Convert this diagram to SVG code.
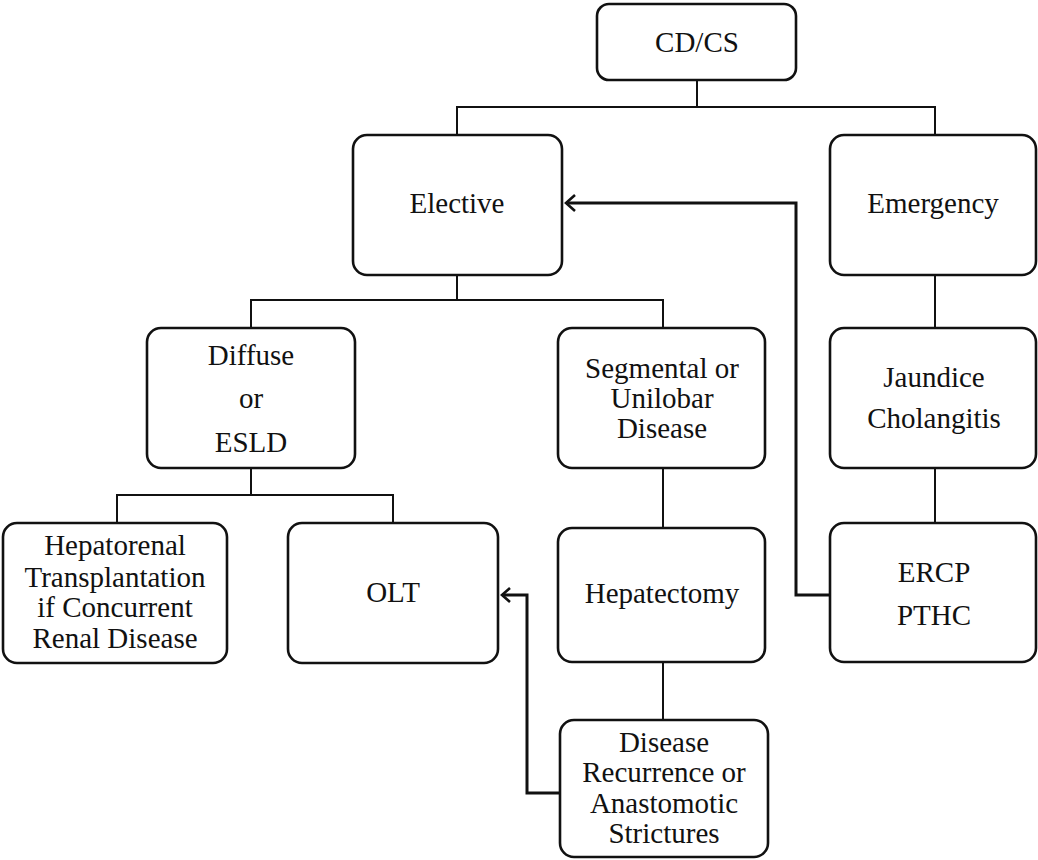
<svg xmlns="http://www.w3.org/2000/svg" width="1038" height="860" viewBox="0 0 1038 860">
<defs>
<style>
.box{fill:#fff;stroke:#111;stroke-width:2.6}
.ln{fill:none;stroke:#111;stroke-width:2}
.ar{fill:none;stroke:#111;stroke-width:3}
.hd{fill:none;stroke:#111;stroke-width:2.6;stroke-linejoin:miter}
</style>
</defs>
<rect width="1038" height="860" fill="#fff"/>
<g id="connectors">
<polyline class="ln" points="697,80 697,107"/>
<polyline class="ln" points="457,135 457,107 935,107 935,135"/>
<polyline class="ln" points="457,275 457,300"/>
<polyline class="ln" points="251,328 251,300 663,300 663,328"/>
<polyline class="ln" points="935,275 935,328"/>
<polyline class="ln" points="251,468 251,495"/>
<polyline class="ln" points="117,523 117,495 393,495 393,523"/>
<polyline class="ln" points="663,468 663,528"/>
<polyline class="ln" points="935,468 935,523"/>
<polyline class="ln" points="663,662 663,720"/>
<polyline class="ar" points="830,595 796,595 796,203 566,203"/>
<polyline class="hd" points="575,195 566,203 575,211"/>
<polyline class="ar" points="560,793 527,793 527,595 502,595"/>
<polyline class="hd" points="510,588 502,595 510,602"/>
</g>
<g font-family="'Liberation Serif', 'DejaVu Serif', 'Times New Roman', serif" font-size="29" fill="#111" text-anchor="middle">
<g id="n-cdcs"><rect class="box" x="597" y="4" width="199" height="76" rx="12"/><text x="697" y="52">CD/CS</text></g>
<g id="n-elective"><rect class="box" x="353" y="135" width="209" height="140" rx="14"/><text x="457" y="213">Elective</text></g>
<g id="n-emergency"><rect class="box" x="830" y="135" width="206" height="140" rx="14"/><text x="933" y="213">Emergency</text></g>
<g id="n-diffuse"><rect class="box" x="147" y="328" width="208" height="140" rx="14"/><text x="251" y="365">Diffuse</text><text x="251" y="408">or</text><text x="251" y="452">ESLD</text></g>
<g id="n-segmental"><rect class="box" x="558" y="328" width="207" height="140" rx="14"/><text x="662" y="378">Segmental or</text><text x="662" y="408">Unilobar</text><text x="662" y="438">Disease</text></g>
<g id="n-jaundice"><rect class="box" x="830" y="328" width="206" height="140" rx="14"/><text x="934" y="387">Jaundice</text><text x="934" y="428">Cholangitis</text></g>
<g id="n-hepatorenal"><rect class="box" x="3" y="523" width="224" height="140" rx="14"/><text x="115" y="555">Hepatorenal</text><text x="115" y="587">Transplantation</text><text x="115" y="617">if Concurrent</text><text x="115" y="648">Renal Disease</text></g>
<g id="n-olt"><rect class="box" x="288" y="523" width="210" height="140" rx="14"/><text x="393" y="602">OLT</text></g>
<g id="n-hepatectomy"><rect class="box" x="558" y="528" width="207" height="134" rx="14"/><text x="662" y="603">Hepatectomy</text></g>
<g id="n-ercp"><rect class="box" x="830" y="523" width="206" height="139" rx="14"/><text x="934" y="582">ERCP</text><text x="934" y="625">PTHC</text></g>
<g id="n-recurrence"><rect class="box" x="560" y="720" width="208" height="137" rx="14"/><text x="664" y="752">Disease</text><text x="664" y="782">Recurrence or</text><text x="664" y="813">Anastomotic</text><text x="664" y="843">Strictures</text></g>
</g>
</svg>
